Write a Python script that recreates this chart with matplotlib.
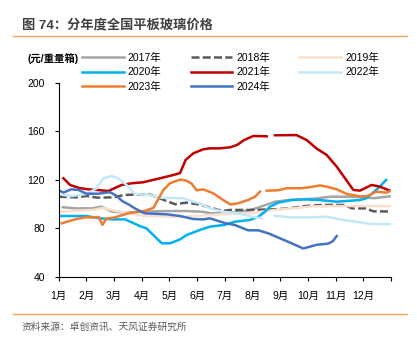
import numpy as np
import matplotlib.pyplot as plt
from matplotlib.lines import Line2D

plt.rcParams['font.family'] = ['Liberation Sans', 'Noto Sans CJK SC', 'DejaVu Sans']

nan = np.nan

# x = month position (0 = start of Jan, 12 = end of Dec)
m2017 = [0.15, 0.65, 1.2, 1.55, 1.9, 2.45, 3.0, 3.9, 4.6, 5.2, 5.5, 6.2, 6.9, 7.3, 7.8, 8.3, 9.2, 9.8, 10.6, 11.4, 11.95]
v2017 = [97.5, 96.6, 96.6, 98, 94, 93, 93.8, 94.4, 94.4, 93.8, 92.5, 93, 95, 98, 102, 103.5, 104.5, 106.2, 106.2, 105, 106.5]

m2018 = [0.0, 0.65, 1.0, 1.4, 2.0, 2.35, 2.95, 3.3, 3.8, 4.2, 4.6, 5.1, 5.5, 5.9, 6.2, 6.9, 7.8, 8.3, 8.9, 9.5, 10.3, 10.6, 11.1, 11.35, 11.95]
v2018 = [106.2, 105.7, 106.8, 105.4, 105.7, 107.6, 108.2, 108, 103.5, 100, 101.3, 99.8, 97, 94.5, 95.3, 95.3, 95.8, 96.6, 98.5, 99.4, 99.4, 96.6, 96.6, 94.2, 94]

m2019 = [0.0, 1.25, 1.6, 1.95, 2.45, 3.06, 3.9, 4.6, 5.4, 6.0, 6.9, 7.81, 8.41, 9.2, 10.3, 11.95]
v2019 = [93.8, 95.3, 97, 95, 93, 90.5, 89.7, 89.7, 91, 91.8, 92.5, 95.3, 96.6, 98.3, 98.5, 98.5]

m2020 = [0.0, 1.0, 1.49, 1.97, 2.4, 2.93, 3.17, 3.72, 4.02, 4.38, 4.62, 5.1, 5.46, 6.0, 6.36, 6.9, 7.21, 7.45, 7.63, 7.93, 8.41, 8.9, 9.4, 10.04, 10.88, 11.12, 11.6, 11.82]
v2020 = [90.3, 90.3, 88.4, 87.5, 87.5, 82, 80.1, 67.8, 67.8, 71, 74.6, 78.8, 81.5, 83, 85.6, 87, 89.7, 93.8, 98, 101.3, 103.5, 104, 103.5, 102.1, 103.5, 105, 114.5, 120]

m2021 = [0.17, 0.41, 0.77, 1.07, 1.43, 1.79, 2.27, 2.64, 3.05, 3.66, 4.14, 4.38, 4.5, 4.58, 4.86, 5.22, 5.46, 5.82, 6.2, 6.45, 6.7, 7.03, 7.51, 7.65, 7.81, 8.59, 8.95, 9.31, 9.68, 10.04, 10.34, 10.64, 10.88, 11.3, 11.6, 11.96]
v2021 = [121.4, 115.9, 113.2, 112.3, 111.7, 110.9, 115.9, 117.3, 118.1, 121.4, 124.1, 125.7, 132, 136.5, 142, 145.3, 146.1, 146.1, 147, 149, 153, 156.3, 156, nan, 156.9, 157, 153, 146, 140.6, 131, 121.4, 111.8, 111.2, 115.9, 114.5, 111.2]

m2022 = [0.17, 0.47, 1.01, 1.37, 1.61, 1.91, 2.15, 2.45, 2.75, 3.3, 3.66, 4.5, 4.86, 5.1, 5.46, 5.94, 6.48, 6.97, 7.33, 7.55, 7.81, 8.35, 9.07, 9.68, 10.28, 10.76, 11.24, 11.96]
v2022 = [107.6, 106.8, 108.5, 113.2, 121.4, 123.3, 121.4, 115.9, 108.5, 107.6, 105.4, 104.9, 102.1, 100.8, 96.6, 93.8, 92.5, 89.7, 88.4, nan, 90.5, 89.2, 89.2, 89.7, 87, 85.6, 83.7, 83.7]

m2023 = [0.11, 0.59, 0.95, 1.31, 1.45, 1.58, 1.72, 2.03, 2.51, 2.87, 3.12, 3.42, 3.78, 4.02, 4.38, 4.6, 4.8, 4.98, 5.22, 5.58, 5.94, 6.2, 6.48, 6.84, 7.09, 7.27, 7.4, 7.51, 7.93, 8.23, 8.77, 9.19, 9.43, 9.68, 10.04, 10.4, 10.88, 11.12, 11.48, 11.84, 11.96]
v2023 = [84.3, 87.5, 89.2, 89.2, 89.5, 83, 88, 89.2, 92.5, 93.8, 94.6, 97, 111.8, 117.3, 120.3, 119.5, 117, 111.5, 112.3, 109, 103.5, 99.8, 100.8, 103.5, 106.2, 110.4, nan, 111.2, 111.5, 113.2, 113.2, 114.5, 115.5, 114.5, 112.3, 108.5, 106.5, 106.5, 110.4, 109.6, 110.8]

m2024 = [0.0, 0.17, 0.45, 0.71, 1.0, 1.43, 1.85, 2.09, 2.3, 2.55, 2.75, 3.0, 3.12, 3.9, 4.38, 4.86, 5.22, 5.46, 6.0, 6.36, 6.84, 7.21, 7.57, 7.93, 8.41, 8.83, 9.31, 9.73, 9.9, 10.04]
v2024 = [111.5, 109.6, 112.3, 111.8, 108.7, 108.7, 110, 106.9, 102.5, 99.5, 96.6, 93.5, 92.5, 91.7, 90.3, 87.8, 87.5, 88.4, 84.5, 82.9, 78.5, 78.5, 76, 72.5, 67.8, 63.5, 66.5, 67.5, 69.5, 73.8]

month_labels = ['1月', '2月', '3月', '4月', '5月', '6月', '7月', '8月', '9月', '10月', '11月', '12月']

fig = plt.figure(figsize=(4.17, 3.5), dpi=100)
ax = fig.add_axes([0.1408, 0.2086, 0.7968, 0.5543])

lw = 1.8
ax.plot(m2017, v2017, color='#A5A5A5', lw=lw, label='2017年')
ax.plot(m2018, v2018, color='#595959', lw=lw, dashes=(3.2, 1.3), label='2018年')
ax.plot(m2019, v2019, color='#FADFCE', lw=lw, label='2019年')
ax.plot(m2020, v2020, color='#00B0F0', lw=lw, label='2020年')
ax.plot(m2021, v2021, color='#C00000', lw=lw, label='2021年')
ax.plot(m2022, v2022, color='#C3E8F8', lw=lw, label='2022年')
ax.plot(m2023, v2023, color='#ED7D31', lw=lw, label='2023年')
ax.plot(m2024, v2024, color='#4472C4', lw=lw, label='2024年')

ax.set_xlim(0, 12)
ax.set_ylim(40, 200)
ax.set_yticks([40, 80, 120, 160, 200])
ax.set_xticks(range(13))
ax.set_xticklabels(month_labels + [''])
ax.tick_params(direction='out', length=3, width=0.8, labelsize=7.5, colors='black')
ax.tick_params(axis='y', pad=7)
ax.tick_params(axis='x', pad=7)
for s in ['top', 'right']:
    ax.spines[s].set_visible(False)
for s in ['left', 'bottom']:
    ax.spines[s].set_linewidth(0.8)

# legend, row-major order like the original
h, l = ax.get_legend_handles_labels()
order = [0, 3, 6, 1, 4, 7, 2, 5]
ax.legend([h[i] for i in order], [l[i] for i in order], ncol=3, frameon=False,
          loc='upper left', bbox_to_anchor=(82 / 417, 1 - 53 / 350), bbox_transform=fig.transFigure,
          fontsize=7.5, borderpad=0, borderaxespad=0, handlelength=4, handletextpad=0.4,
          columnspacing=2.8, labelspacing=0.4)

fig.text(22 / 417, 1 - 25 / 350, '图 74：分年度全国平板玻璃价格', fontsize=9.5, fontweight='bold',
         color='#404040', va='center', ha='left')
fig.add_artist(Line2D([13 / 417, 407 / 417], [1 - 36 / 350] * 2, color='#F3A35C', lw=1))
fig.text(27 / 417, 1 - 59 / 350, '(元/重量箱)', fontsize=7.5, fontweight='bold', color='black',
         va='center', ha='left')
fig.add_artist(Line2D([13 / 417, 407 / 417], [1 - 314 / 350] * 2, color='#F3A35C', lw=1))
fig.text(22 / 417, 1 - 327 / 350, '资料来源：卓创资讯、天风证券研究所', fontsize=7, color='#595959',
         va='center', ha='left')

fig.savefig('out.png', dpi=100)
